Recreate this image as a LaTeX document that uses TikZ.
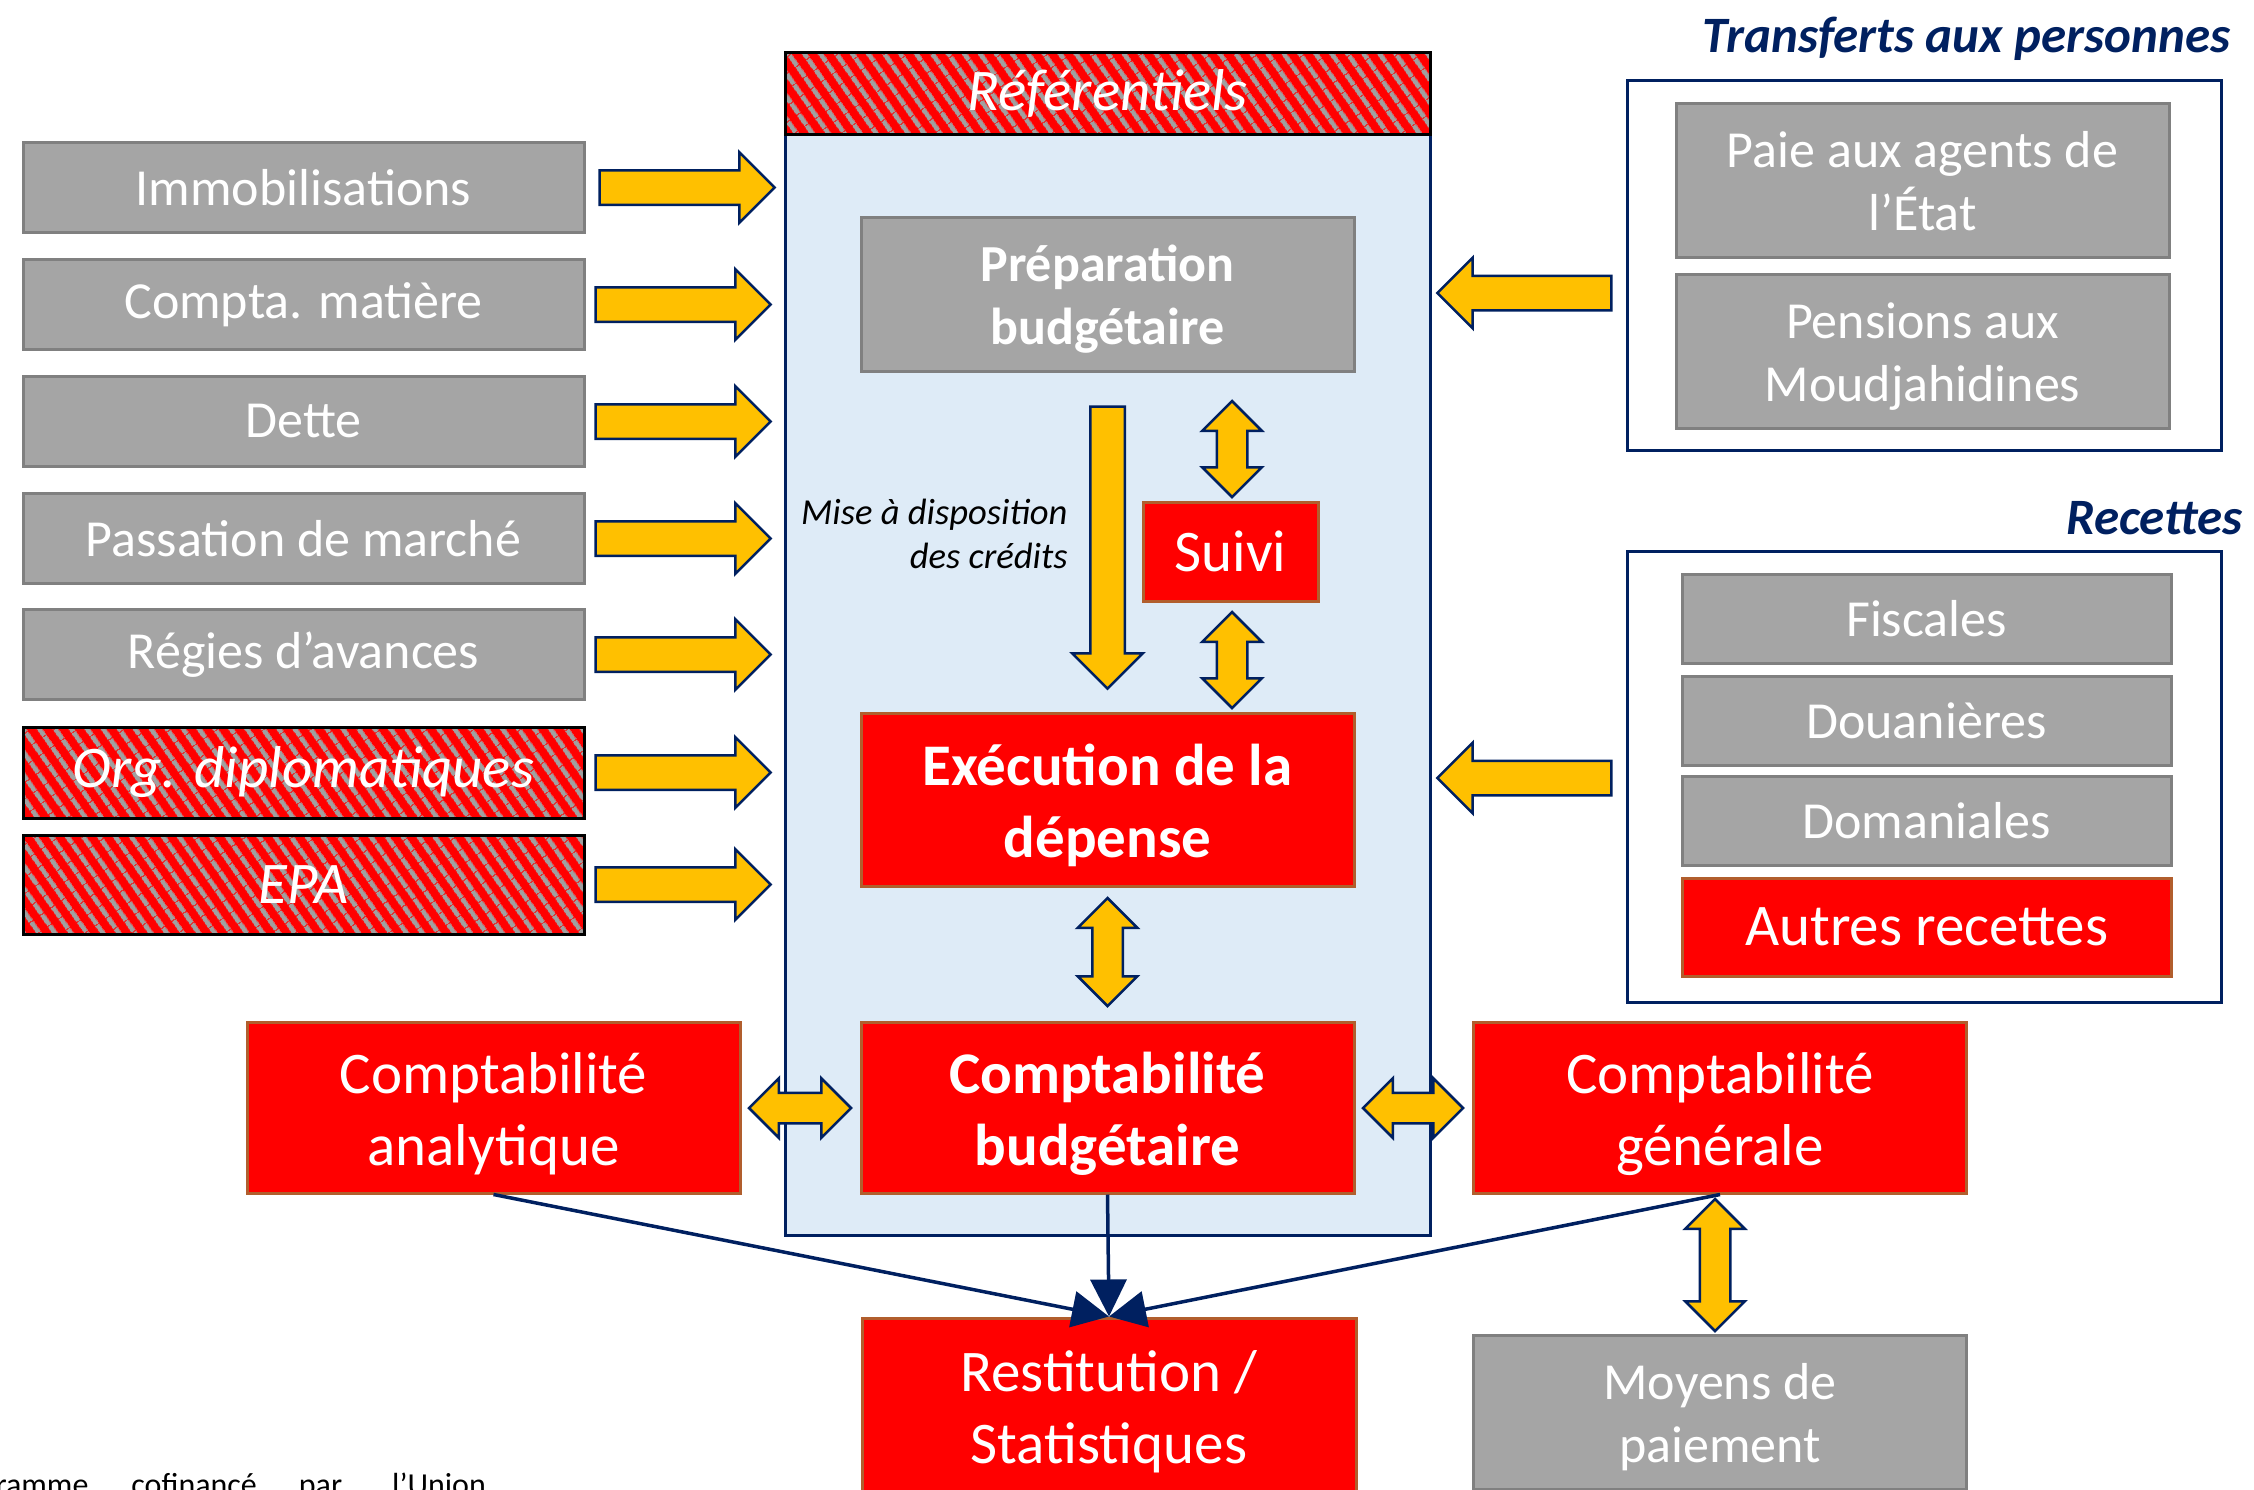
\documentclass[tikz,border=0pt]{standalone}
\usepackage{fontspec}
\setmainfont{Carlito}
\usetikzlibrary{shapes.arrows,arrows.meta,patterns.meta}
\definecolor{navy}{RGB}{0,32,96}
\definecolor{gold}{RGB}{255,192,0}
\definecolor{boxgray}{RGB}{165,165,165}
\definecolor{rimgray}{RGB}{128,128,128}
\definecolor{boxred}{RGB}{255,0,0}
\definecolor{rimbrown}{RGB}{177,94,45}
\definecolor{paleblue}{RGB}{222,235,247}
\definecolor{stripe}{RGB}{160,160,160}
% struts for the two-line boxes
\newcommand{\hiline}{\rule{0pt}{1.13em}}
\newcommand{\loline}{\rule[-0.4em]{0pt}{0.4em}}

\tikzset{
  graybox/.style={rectangle, fill=boxgray, draw=rimgray, line width=1.5pt, inner sep=2pt,
    text=white, align=center, font=\fontsize{26}{31.5}\selectfont},
  redbox/.style={rectangle, fill=boxred, draw=rimbrown, line width=1.5pt, inner sep=2pt,
    text=white, align=center, font=\fontsize{29.5}{36}\selectfont},
  hatchbox/.style={rectangle, preaction={fill=boxred}, pattern={Lines[angle=-55,distance=6.5pt,line width=2.4pt]},
    pattern color=stripe, draw=black, line width=1.5pt, inner sep=2pt,
    text=white, font=\fontsize{29.5}{36}\selectfont\itshape},
  outlinebox/.style={rectangle, draw=navy, line width=1.5pt, fill=white},
  heading/.style={text=navy, font=\fontsize{25.5}{30}\selectfont\bfseries\itshape, inner sep=0pt},
  rarrow/.style={single arrow, draw=navy, fill=gold, line width=1.25pt, inner sep=0pt, inner ysep=8pt,
    minimum width=34pt, single arrow head extend=9pt, single arrow tip angle=90, minimum height=#1},
  darrow/.style={double arrow, draw=navy, fill=gold, line width=1.25pt, inner sep=0pt, inner ysep=7pt,
    minimum width=28.5pt, double arrow head extend=7.25pt, double arrow tip angle=90, minimum height=#1},
  link/.style={draw=navy, line width=1.75pt, -{Triangle[length=18.5pt,width=18pt]}}
}

\begin{document}
\begin{tikzpicture}[x=0.5pt, y=-0.5pt]
\useasboundingbox (0,0) rectangle (2254,1489);
\clip (0,0) rectangle (2254,1489);

% central frame
\node (frame) [rectangle, fill=paleblue, draw=navy, line width=1.5pt, minimum width=322.5pt, minimum height=550.5pt] at (1107.5, 684.5) {};
\node (refs) [hatchbox, minimum width=322.5pt, minimum height=41pt] at (1107.5, 93) {Référentiels};

% left column
\node (immo) [graybox, minimum width=280.5pt, minimum height=45pt] at (303.5, 187.5) {Immobilisations};
\node (compta) [graybox, minimum width=280.5pt, minimum height=45pt] at (303.5, 304.5) {Compta. matière};
\node (dette) [graybox, minimum width=280.5pt, minimum height=45pt] at (303.5, 421.5) {Dette};
\node (passation) [graybox, minimum width=280.5pt, minimum height=45pt] at (303.5, 538.5) {Passation de marché};
\node (regies) [graybox, minimum width=280.5pt, minimum height=45pt] at (303.5, 654.5) {Régies d’avances};
\node (orgdip) [hatchbox, minimum width=280.5pt, minimum height=45.5pt] at (303.5, 772.5) {Org. diplomatiques};
\node (epa) [hatchbox, minimum width=280.5pt, minimum height=49.5pt] at (303.5, 884.5) {EPA};

\node (a1) [rarrow=87.5pt] at (678.5, 187.5) {};
\node (a2) [rarrow=87.5pt] at (674.5, 304.5) {};
\node (a3) [rarrow=87.5pt] at (674.5, 421.5) {};
\node (a4) [rarrow=87.5pt] at (674.5, 538.5) {};
\node (a5) [rarrow=87.5pt] at (674.5, 654.5) {};
\node (a6) [rarrow=87.5pt] at (674.5, 772.5) {};
\node (a7) [rarrow=87.5pt] at (674.5, 884.5) {};

% inside the frame
\node (prep) [graybox, font=\fontsize{26}{31.5}\selectfont\bfseries, minimum width=246.5pt, minimum height=77pt] at (1107.5, 294) {\hiline Préparation\\budgétaire\loline};
\node (suivi) [redbox, minimum width=87.5pt, minimum height=49.5pt] at (1230.5, 551.5) {Suivi};
\node (exec) [redbox, font=\fontsize{29.5}{36}\selectfont\bfseries, minimum width=246.5pt, minimum height=86.5pt] at (1107.5, 799.5) {\hiline Exécution de la\\dépense\loline};
\node (budget) [redbox, font=\fontsize{29.5}{36}\selectfont\bfseries, minimum width=246.5pt, minimum height=85.5pt] at (1107.5, 1107.5) {\hiline Comptabilité\\budgétaire\loline};
\node (credits) [anchor=east, align=right, inner sep=0pt, font=\fontsize{18.3}{22.3}\selectfont\itshape] at (1068, 534) {Mise à disposition\\des crédits};

\node (down) [rarrow=141pt, rotate=-90] at (1107.5, 539) {};
\node (d1) [darrow=48pt, rotate=90] at (1232, 449) {};
\node (d2) [darrow=48pt, rotate=90] at (1232, 660) {};
\node (d3) [darrow=54pt, rotate=90] at (1107.5, 952) {};

% bottom row
\node (analyt) [redbox, minimum width=246.5pt, minimum height=85.5pt] at (493.5, 1107.5) {\hiline Comptabilité\\analytique\loline};
\node (generale) [redbox, minimum width=246.5pt, minimum height=85.5pt] at (1720, 1107.5) {\hiline Comptabilité\\générale\loline};
\node (restit) [redbox, minimum width=247pt, minimum height=88pt] at (1109, 1406) {\hiline Restitution /\\Statistiques\loline};
\node (moyens) [graybox, minimum width=246.5pt, minimum height=77pt] at (1720, 1412) {\hiline Moyens de\\paiement\loline};

\node (d4) [darrow=51pt] at (800, 1108) {};
\node (d5) [darrow=50pt] at (1413, 1108) {};
\node (d6) [darrow=66pt, rotate=90] at (1715, 1265) {};

% right side
\node (transf) [heading, anchor=base east] at (2231, 52) {Transferts aux personnes};
\node (transbox) [outlinebox, minimum width=297pt, minimum height=185pt] at (1924, 265) {};
\node (paie) [graybox, minimum width=246.5pt, minimum height=77pt] at (1922.5, 180) {\hiline Paie aux agents de\\l’État\loline};
\node (pensions) [graybox, minimum width=246.5pt, minimum height=77pt] at (1922.5, 351.5) {\hiline Pensions aux\\Moudjahidines\loline};
\node (b1) [rarrow=87pt, rotate=180] at (1533, 293) {};

\node (recettes) [heading, anchor=base east] at (2243, 534) {Recettes};
\node (recbox) [outlinebox, minimum width=297pt, minimum height=225.5pt] at (1924, 776.5) {};
\node (fiscales) [graybox, minimum width=244.5pt, minimum height=44.5pt] at (1926.5, 618.5) {Fiscales};
\node (douanes) [graybox, minimum width=244.5pt, minimum height=44.5pt] at (1926.5, 720.5) {Douanières};
\node (domaines) [graybox, minimum width=244.5pt, minimum height=44.5pt] at (1926.5, 820.5) {Domaniales};
\node (autres) [redbox, minimum width=244.5pt, minimum height=49pt] at (1926.5, 927) {Autres recettes};
\node (b2) [rarrow=87pt, rotate=180] at (1533, 778) {};

% links to the restitution
\draw [link] (analyt.south) -- (restit.north);
\draw [link] (budget.south) -- (restit.north);
\draw [link] (generale.south) -- (restit.north);

\node (footer) [anchor=base west, inner sep=0pt, font=\fontsize{16}{19}\selectfont] at (-64, 1495) {Programme\hspace{21.5pt}cofinancé\hspace{21pt}par\hspace{25pt}l’Union};
\end{tikzpicture}
\end{document}
